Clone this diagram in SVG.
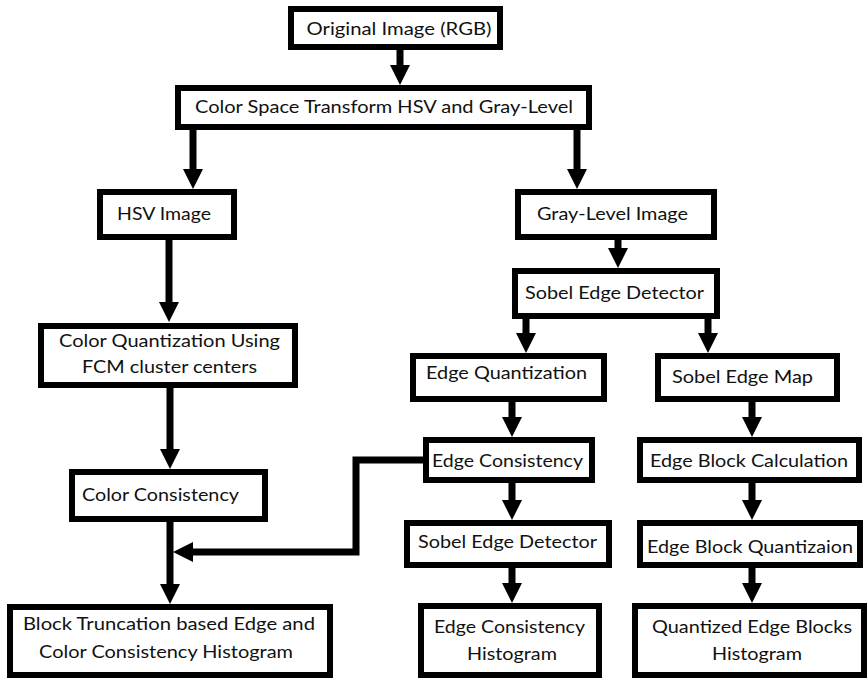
<svg xmlns="http://www.w3.org/2000/svg" width="867" height="679" viewBox="0 0 867 679">
  <style>
    .box rect { fill: #ffffff; stroke: #000000; stroke-width: 6; }
    .box text { font-family: Lato, "Open Sans", "Liberation Sans", sans-serif; font-size: 18px; fill: #111111; text-anchor: middle; }
    .conn { fill: none; stroke: #000000; stroke-width: 7; marker-end: url(#head); }
  </style>
  <defs>
    <marker id="head" markerUnits="userSpaceOnUse" markerWidth="20" markerHeight="20" refX="0" refY="10" orient="auto">
      <path d="M0,0 L20,10 L0,20 z" fill="#000000"/>
    </marker>
  </defs>
  <rect width="867" height="679" fill="#ffffff"/>

  <g id="connectors">
    <path class="conn" d="M400,50 V65"/>
    <path class="conn" d="M193,130 V169"/>
    <path class="conn" d="M577,130 V169"/>
    <path class="conn" d="M169,240 V302"/>
    <path class="conn" d="M170,388 V449"/>
    <path class="conn" d="M170,522 V584"/>
    <path class="conn" d="M423,460 H356 V552 H193"/>
    <path class="conn" d="M618,240 V248"/>
    <path class="conn" d="M526,319 V333"/>
    <path class="conn" d="M708,319 V333"/>
    <path class="conn" d="M512,402 V417"/>
    <path class="conn" d="M512,483 V500"/>
    <path class="conn" d="M512,568 V583"/>
    <path class="conn" d="M752,402 V417"/>
    <path class="conn" d="M752,483 V500"/>
    <path class="conn" d="M752,568 V583"/>
  </g>

  <g id="original" class="box">
    <rect x="291" y="9" width="209" height="38"/>
    <text x="399" y="35" textLength="185" lengthAdjust="spacingAndGlyphs">Original Image (RGB)</text>
  </g>
  <g id="colorspace" class="box">
    <rect x="178" y="88" width="411" height="39"/>
    <text x="384" y="113" textLength="378" lengthAdjust="spacingAndGlyphs">Color Space Transform HSV and Gray-Level</text>
  </g>
  <g id="hsv" class="box">
    <rect x="100" y="192" width="134" height="45"/>
    <text x="164" y="220" textLength="94" lengthAdjust="spacingAndGlyphs">HSV Image</text>
  </g>
  <g id="colorquant" class="box">
    <rect x="41" y="326" width="254" height="59"/>
    <text x="169.5" y="347" textLength="221" lengthAdjust="spacingAndGlyphs">Color Quantization Using</text>
    <text x="169.5" y="373" textLength="175" lengthAdjust="spacingAndGlyphs">FCM cluster centers</text>
  </g>
  <g id="colorcons" class="box">
    <rect x="72" y="472" width="193" height="47"/>
    <text x="160.5" y="501" textLength="157" lengthAdjust="spacingAndGlyphs">Color Consistency</text>
  </g>
  <g id="btecch" class="box">
    <rect x="10" y="607" width="320" height="68"/>
    <text x="169" y="630" textLength="292" lengthAdjust="spacingAndGlyphs">Block Truncation based Edge and</text>
    <text x="166" y="658" textLength="254" lengthAdjust="spacingAndGlyphs">Color Consistency Histogram</text>
  </g>
  <g id="gray" class="box">
    <rect x="518" y="192" width="196" height="45"/>
    <text x="612.5" y="220" textLength="151" lengthAdjust="spacingAndGlyphs">Gray-Level Image</text>
  </g>
  <g id="sobel1" class="box">
    <rect x="515" y="271" width="202" height="45"/>
    <text x="614.5" y="299" textLength="179" lengthAdjust="spacingAndGlyphs">Sobel Edge Detector</text>
  </g>
  <g id="edgequant" class="box">
    <rect x="413" y="356" width="191" height="43"/>
    <text x="506.5" y="379" textLength="161" lengthAdjust="spacingAndGlyphs">Edge Quantization</text>
  </g>
  <g id="sobelmap" class="box">
    <rect x="658" y="356" width="179" height="43"/>
    <text x="742.5" y="383" textLength="141" lengthAdjust="spacingAndGlyphs">Sobel Edge Map</text>
  </g>
  <g id="edgecons" class="box">
    <rect x="426" y="440" width="166" height="40"/>
    <text x="507.5" y="467" textLength="151" lengthAdjust="spacingAndGlyphs">Edge Consistency</text>
  </g>
  <g id="edgeblockcalc" class="box">
    <rect x="640" y="440" width="219" height="40"/>
    <text x="749" y="467" textLength="198" lengthAdjust="spacingAndGlyphs">Edge Block Calculation</text>
  </g>
  <g id="sobel2" class="box">
    <rect x="407" y="523" width="202" height="42"/>
    <text x="507.5" y="548" textLength="179" lengthAdjust="spacingAndGlyphs">Sobel Edge Detector</text>
  </g>
  <g id="edgeblockquant" class="box">
    <rect x="640" y="523" width="220" height="42"/>
    <text x="750" y="553" textLength="206" lengthAdjust="spacingAndGlyphs">Edge Block Quantizaion</text>
  </g>
  <g id="edgeconshist" class="box">
    <rect x="421" y="606" width="178" height="69"/>
    <text x="509.5" y="633" textLength="151" lengthAdjust="spacingAndGlyphs">Edge Consistency</text>
    <text x="512" y="660" textLength="90" lengthAdjust="spacingAndGlyphs">Histogram</text>
  </g>
  <g id="quantblockhist" class="box">
    <rect x="635" y="606" width="229" height="69"/>
    <text x="752" y="633" textLength="200" lengthAdjust="spacingAndGlyphs">Quantized Edge Blocks</text>
    <text x="757" y="660" textLength="90" lengthAdjust="spacingAndGlyphs">Histogram</text>
  </g>
</svg>
